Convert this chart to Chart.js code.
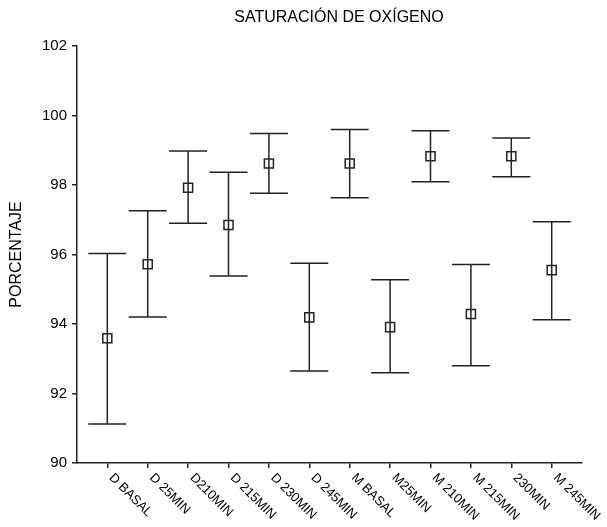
<!DOCTYPE html>
<html>
<head>
<meta charset="utf-8">
<script src="https://cdn.jsdelivr.net/npm/chart.js@4"></script>
<style>
  html, body { margin: 0; padding: 0; background: #fff; }
  #wrap { width: 607px; height: 527px; }
</style>
</head>
<body>
<div id="wrap"><canvas id="satChart"></canvas></div>
<script>
// ===== DATA =====
const categories = ["D BASAL", "D 25MIN", "D210MIN", "D 215MIN", "D 230MIN", "D 245MIN",
                    "M BASAL", "M25MIN", "M 210MIN", "M 215MIN", "230MIN", "M 245MIN"];
const means = [93.59, 95.72, 97.92, 96.85, 98.62, 94.19, 98.62, 93.91, 98.83, 94.29, 98.83, 95.55];
const upper = [96.03, 97.26, 98.98, 98.37, 99.48, 95.75, 99.60, 95.27, 99.56, 95.71, 99.35, 96.94];
const lower = [91.12, 94.20, 96.90, 95.38, 97.76, 92.65, 97.63, 92.60, 98.09, 92.80, 98.24, 94.12];
const yTicks = [90, 92, 94, 96, 98, 100, 102];

const titleText = "SATURACIÓN DE OXÍGENO";
const yTitle = "PORCENTAJE";

const FONT = "'Liberation Sans', Arial, sans-serif";
const INK = "#222";

// ===== PLUGIN: error bars, rotated category labels, title =====
const errorBars = {
  id: "errorBars",
  beforeDatasetsDraw(chart) {
    const { ctx, scales: { x, y } } = chart;
    ctx.save();
    ctx.strokeStyle = INK;
    ctx.lineWidth = 1.5;
    means.forEach((m, i) => {
      const px = x.getPixelForValue(i + 1);
      const top = y.getPixelForValue(upper[i]);
      const bot = y.getPixelForValue(lower[i]);
      ctx.beginPath();
      ctx.moveTo(px, top); ctx.lineTo(px, bot);
      ctx.moveTo(px - 19, top); ctx.lineTo(px + 19, top);
      ctx.moveTo(px - 19, bot); ctx.lineTo(px + 19, bot);
      ctx.stroke();
    });
    ctx.restore();
  },
  afterDraw(chart) {
    const { ctx, scales: { x, y } } = chart;
    ctx.save();
    ctx.fillStyle = "#000";
    // category labels, slanted downwards to the right
    ctx.font = "13px " + FONT;
    ctx.textAlign = "left";
    ctx.textBaseline = "middle";
    categories.forEach((c, i) => {
      const px = x.getPixelForValue(i + 1);
      ctx.save();
      ctx.translate(px + 1, y.bottom + 10);
      ctx.rotate(Math.PI / 4);
      ctx.fillText(c, 4, 0);
      ctx.restore();
    });
    // chart title
    ctx.font = "16px " + FONT;
    ctx.textAlign = "center";
    ctx.fillText(titleText, 339, 18);
    ctx.restore();
  }
};

// ===== CHART =====
new Chart(document.getElementById("satChart"), {
  type: "scatter",
  data: {
    datasets: [{
      data: means.map((m, i) => ({ x: i + 1, y: m })),
      pointStyle: "rect",
      pointRadius: 6.4,
      pointHoverRadius: 6.4,
      borderColor: INK,
      borderWidth: 1.5,
      backgroundColor: "transparent"
    }]
  },
  plugins: [errorBars],
  options: {
    responsive: true,
    maintainAspectRatio: false,
    animation: false,
    layout: { padding: { top: 46, right: 25, bottom: 0, left: 0 } },
    plugins: {
      legend: { display: false },
      tooltip: { enabled: false },
      title: { display: false }
    },
    scales: {
      x: {
        type: "linear",
        min: 0.25,
        max: 12.75,
        afterBuildTicks(scale) {
          scale.ticks = categories.map((c, i) => ({ value: i + 1 }));
        },
        afterFit(scale) { scale.height = 64; },
        ticks: { callback: () => "", padding: 0 },
        grid: { drawOnChartArea: false, drawTicks: true, tickLength: 5, color: INK, lineWidth: 1.5 },
        border: { color: INK, width: 1.5 }
      },
      y: {
        min: 90,
        max: 102,
        afterBuildTicks(scale) {
          scale.ticks = yTicks.map(v => ({ value: v }));
        },
        afterFit(scale) { scale.width = 77; },
        ticks: { color: "#000", font: { family: FONT, size: 15 }, padding: 5 },
        grid: { drawOnChartArea: false, drawTicks: true, tickLength: 5, color: INK, lineWidth: 1.5 },
        border: { color: INK, width: 1.5 },
        title: {
          display: true,
          text: yTitle,
          color: "#000",
          font: { family: FONT, size: 16 },
          padding: { top: 7, bottom: 0 }
        }
      }
    }
  }
});
</script>
</body>
</html>
